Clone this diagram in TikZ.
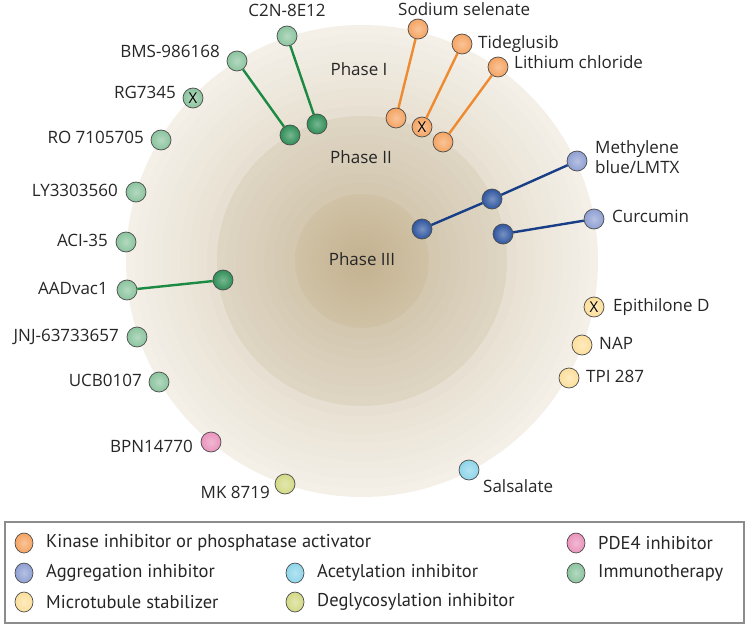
\documentclass[tikz,border=0pt]{standalone}
\usepackage{fontspec}
\setmainfont{Open Sans}
\newfontfamily\legfont{PT Sans}
\usetikzlibrary{positioning}
\usetikzlibrary{calc}
\usetikzlibrary{shapes.geometric}

% Ring colours
\definecolor{ringlight}{HTML}{F4F0E8}
\definecolor{ringmid}{HTML}{E7E0D2}
\definecolor{ringtwo}{HTML}{DED5C3}
\definecolor{ringdark}{HTML}{D3C7AF}
\definecolor{coreout}{HTML}{D0C2A6}
\definecolor{corein}{HTML}{C4B290}
% Drug classes
\definecolor{kinase}{HTML}{F5A462}
\definecolor{aggreg}{HTML}{8E9FD2}
\definecolor{aggregdk}{HTML}{2F56A0}
\definecolor{microt}{HTML}{FDDF9C}
\definecolor{acetyl}{HTML}{8DD5EA}
\definecolor{deglyc}{HTML}{D3D985}
\definecolor{pde}{HTML}{EA93BC}
\definecolor{immuno}{HTML}{8BC49E}
\definecolor{immunodk}{HTML}{2F8F57}
% Stems
\definecolor{kinline}{HTML}{EE8A2F}
\definecolor{immline}{HTML}{1C8A42}
\definecolor{aggline}{HTML}{173E86}

\tikzset{
  drug/.style={circle, draw=black!70, line width=0.7pt, minimum size=20pt, inner sep=0pt,
    shading=radial, inner color=#1!65!white, outer color=#1, font=\fontsize{15}{15}\selectfont},
  lbl/.style={font=\fontsize{17}{20}\selectfont, text=black!85, inner sep=2pt,
    text height=12pt, text depth=3.5pt},
  legtxt/.style={font=\legfont\fontsize{18.5}{20}\selectfont, text=black!85, anchor=west, inner sep=0pt},
  link/.style={line width=2.4pt},
}

\begin{document}
\begin{tikzpicture}[x=1pt, y=-1pt]
    \useasboundingbox (0,0) rectangle (750,626);
    % Parameters
    \def\Rone{236}   % Phase I radius
    \def\Rtwo{145}   % Phase II radius
    \def\Rthree{67}  % Phase III radius
    \coordinate (ctr) at (362,261);

    % Phase rings, lighter towards the rim
    \foreach \i in {0,...,9} {
        \pgfmathsetmacro\rr{\Rone-\i*9}
        \pgfmathsetmacro\mx{\i*11}
        \fill[ringmid!\mx!ringlight] (ctr) circle (\rr pt);
    }
    \foreach \i in {0,...,7} {
        \pgfmathsetmacro\rr{\Rtwo-\i*9.5}
        \pgfmathsetmacro\mx{\i*13}
        \fill[ringdark!\mx!ringtwo] (ctr) circle (\rr pt);
    }
    \shade[inner color=corein, outer color=coreout] (ctr) circle (\Rthree pt);

    % Phase labels
    \node[lbl] (ph1) at (359,71) {Phase I};
    \node[lbl] (ph2) at (361,159) {Phase II};
    \node[lbl] (ph3) at (362,261) {Phase III};

    % Immunotherapy, outer column
    \foreach \nm/\px/\py/\tx/\ty/\txt in {bms/237/61/222/53/BMS-986168, ro/161/140/146/139/RO 7105705,
        ly/136/192/120/192/LY3303560, aci/126/242/110/242/ACI-35, aad/127/290/110/290/AADvac1,
        jnj/137/337/121/337/JNJ-63733657, ucb/159/382/144/382/UCB0107} {
        \node[drug=immuno] (\nm) at (\px,\py) {};
        \node[lbl, anchor=east] (\nm T) at (\tx,\ty) {\txt};
    }
    \node[drug=immuno] (c2n) at (287,36) {};
    \node[lbl] (c2nT) at (287,12) {C2N-8E12};
    \node[drug=immuno] (rg) at (193,98) {X};
    \node[lbl, anchor=east] (rgT) at (178,94) {RG7345};

    % Other classes
    \node[drug=pde] (bpn) at (211,442) {};
    \node[lbl, anchor=east] (bpnT) at (195,448) {BPN14770};
    \node[drug=deglyc] (mk) at (285,484) {};
    \node[lbl, anchor=east] (mkT) at (272,494) {MK 8719};
    \node[drug=acetyl] (sal) at (469,470) {};
    \node[lbl, anchor=west] (salT) at (481,488) {Salsalate};
    \node[drug=microt] (tpi) at (569,378) {};
    \node[lbl, anchor=west] (tpiT) at (584,378) {TPI 287};
    \node[drug=microt] (nap) at (582,345) {};
    \node[lbl, anchor=west] (napT) at (597,345) {NAP};
    \node[drug=microt] (epi) at (594,307) {X};
    \node[lbl, anchor=west] (epiT) at (611,307) {Epithilone D};

    % Aggregation inhibitors
    \node[drug=aggreg] (met) at (577,161) {};
    \node[lbl, anchor=west, align=left, text height=, text depth=] (metT) at (593,157) {Methylene\\blue/LMTX};
    \node[drug=aggregdk] (metII) at (492,199) {};
    \node[drug=aggregdk] (metIII) at (422,229) {};
    \node[drug=aggreg] (cur) at (594,219) {};
    \node[lbl, anchor=west] (curT) at (610,218) {Curcumin};
    \node[drug=aggregdk] (curI) at (503,234) {};

    % Kinase inhibitors
    \node[drug=kinase] (sod) at (418,29) {};
    \node[lbl, anchor=west] (sodT) at (396,11) {Sodium selenate};
    \node[drug=kinase] (tid) at (462,44) {};
    \node[lbl, anchor=west] (tidT) at (476,44) {Tideglusib};
    \node[drug=kinase] (lit) at (498,67) {};
    \node[lbl, anchor=west] (litT) at (512,64) {Lithium chloride};
    \node[drug=kinase] (sodI) at (396,118) {};
    \node[drug=kinase] (tidI) at (422,127) {X};
    \node[drug=kinase] (litI) at (443,142) {};

    % Inner immunotherapy
    \node[drug=immunodk] (c2nI) at (317,124) {};
    \node[drug=immunodk] (bmsI) at (290,135) {};
    \node[drug=immunodk] (aadI) at (223,280) {};

    % Stems
    \draw[link, kinline] (sodI) -- (sod);
    \draw[link, kinline] (tidI) -- (tid);
    \draw[link, kinline] (litI) -- (lit);
    \draw[link, immline] (c2nI) -- (c2n);
    \draw[link, immline] (bmsI) -- (bms);
    \draw[link, immline] (aadI) -- (aad);
    \draw[link, aggline] (metIII) -- (metII);
    \draw[link, aggline] (metII) -- (met);
    \draw[link, aggline] (curI) -- (cur);

    % Legend
    \draw[black!45, line width=1.2pt] (5,522) rectangle (744,623);
    \foreach \nm/\col/\px/\py/\txt in {lkin/kinase/24/543/Kinase inhibitor or phosphatase activator,
        lagg/aggreg/24/573/Aggregation inhibitor, lmic/microt/24/602/Microtubule stabilizer,
        lace/acetyl/295/573/Acetylation inhibitor, ldeg/deglyc/295/602/Deglycosylation inhibitor,
        lpde/pde/576/543/PDE4 inhibitor, limm/immuno/576/573/Immunotherapy} {
        \node[drug=\col, ellipse, minimum width=18pt, minimum height=20pt] (\nm) at (\px,\py) {};
        \node[legtxt, right=22pt of \nm.center] (\nm T) {\txt};
    }
\end{tikzpicture}
\end{document}
